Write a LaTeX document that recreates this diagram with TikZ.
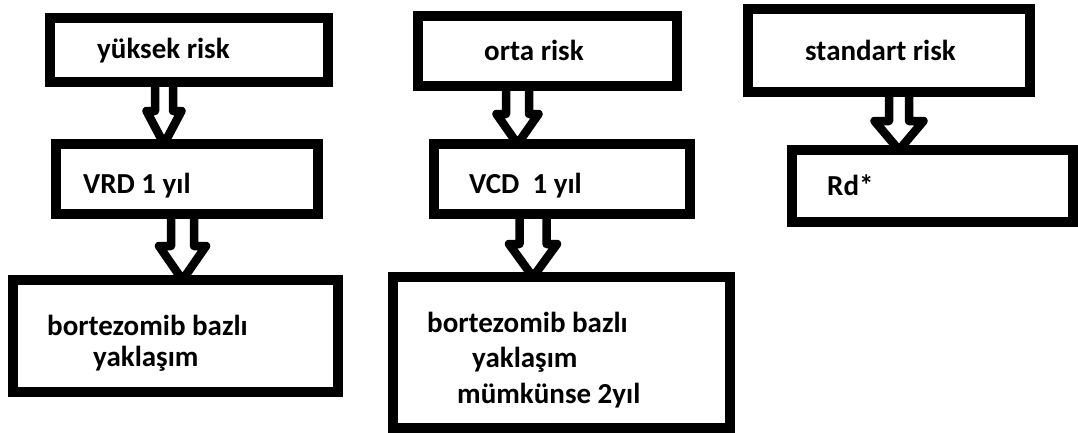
\documentclass[tikz,border=0pt]{standalone}
\usepackage{fontspec}
\setmainfont{Carlito}
\usetikzlibrary{calc,backgrounds}

\tikzset{
  box/.style={draw, line width=10pt, fill=white, rectangle, inner sep=0pt, outer sep=0pt},
  lbl/.style={anchor=base west, inner sep=0pt, font=\fontsize{29}{32}\selectfont\bfseries},
  hollow/.style={draw, line width=8.5pt, fill=white, line join=round},
}

% Hollow block arrow from the bottom of #1 to the top of #2.
% #3 x offset from the upper box centre, #4 shaft half width,
% #5 head half width, #6 head length
\newcommand{\blockarrow}[6]{%
  \draw[hollow] let \p1=([xshift=#3pt]#1.south), \p2=(#2.north) in
    (\x1-#4pt,\y1) -- (\x1-#4pt,\y2+#6pt) -- (\x1-#5pt,\y2+#6pt) -- (\x1,\y2)
    -- (\x1+#5pt,\y2+#6pt) -- (\x1+#4pt,\y2+#6pt) -- (\x1+#4pt,\y1);}

\begin{document}
\begin{tikzpicture}[x=1pt, y=-1pt]
  \useasboundingbox (0,0) rectangle (1078,432);

  % boxes
  \node[box, minimum width=278pt, minimum height=64pt]  (high)   at (188.5,50)  {};
  \node[box, minimum width=262pt, minimum height=70pt]  (vrd)    at (187,179)   {};
  \node[box, minimum width=325pt, minimum height=112pt] (bortA)  at (175.5,336) {};
  \node[box, minimum width=259pt, minimum height=70pt]  (mid)    at (547.5,51)  {};
  \node[box, minimum width=256pt, minimum height=70pt]  (vcd)    at (562,179)   {};
  \node[box, minimum width=337pt, minimum height=151pt] (bortB)  at (561.5,352.5) {};
  \node[box, minimum width=282pt, minimum height=83pt]  (std)    at (889,50.5)  {};
  \node[box, minimum width=281pt, minimum height=72pt]  (rd)     at (932.5,186) {};

  % labels
  \node[lbl] (tHigh)  at (97,58)   {yüksek risk};
  \node[lbl] (tVrd)   at (83,193)  {VRD 1 yıl};
  \node[lbl] (tBA1)   at (47,335)  {bortezomib bazlı};
  \node[lbl] (tBA2)   at (93,366)  {yaklaşım};
  \node[lbl] (tMid)   at (484,60)  {orta risk};
  \node[lbl] (tVcd)   at (469,193) {VCD\ \ 1 yıl};
  \node[lbl] (tBB1)   at (427,332) {bortezomib bazlı};
  \node[lbl] (tBB2)   at (472,367) {yaklaşım};
  \node[lbl] (tBB3)   at (457,403) {mümkünse 2yıl};
  \node[lbl] (tStd)   at (805,60)  {standart risk};
  \node[lbl] (tRd)    at (827,195) {Rd*};

  % white page and arrows, behind the boxes
  \begin{scope}[on background layer]
    \fill[white] (0,0) rectangle (1078,432);
    \blockarrow{high}{vrd}{-24.5}{9}{17.5}{33}
    \blockarrow{vrd}{bortA}{-4.5}{11.5}{23.5}{34}
    \blockarrow{mid}{vcd}{-30}{11.5}{21}{30}
    \blockarrow{vcd}{bortB}{-29}{13.5}{24}{33}
    \blockarrow{std}{rd}{10}{10}{24.5}{29}
  \end{scope}
\end{tikzpicture}
\end{document}
